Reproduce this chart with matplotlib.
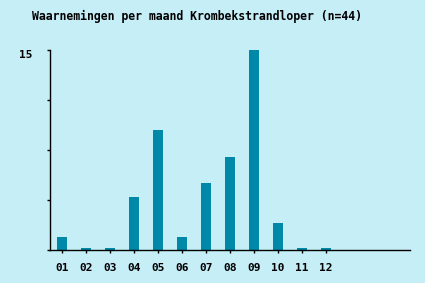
import matplotlib.pyplot as plt
import numpy as np

maanden = ['01', '02', '03', '04', '05', '06', '07', '08', '09', '10', '11', '12']
aantallen = [1, 0, 0, 4, 9, 1, 5, 7, 15, 2, 0, 0]
yticks = [0, 3.75, 7.5, 11.25, 15]
ylabels = ['', '', '', '', '15']

achtergrond = '#c6eef7'
balk = '#0088a8'

fig = plt.figure(figsize=(4.25, 2.83), dpi=100, facecolor=achtergrond)
ax = fig.add_axes([50 / 425, 33 / 283, 360 / 425, 200 / 283])
ax.set_facecolor(achtergrond)

x = np.arange(len(maanden))
# lege maanden krijgen een klein stompje zoals in het origineel
hoogte = np.maximum(aantallen, 0.15)
ax.bar(x, hoogte, width=0.38, color=balk)

ax.set_xlim(-0.5, 14.5)
ax.set_ylim(0, 15)
ax.set_xticks(x)
ax.set_xticklabels(maanden)
ax.set_yticks(yticks)
ax.set_yticklabels(ylabels)

for s in ['top', 'right']:
    ax.spines[s].set_visible(False)
for s in ['left', 'bottom']:
    ax.spines[s].set_linewidth(1.0)

ax.tick_params(axis='x', length=2.5, width=1, pad=7)
ax.tick_params(axis='y', length=2.5, width=1, pad=10)
for lbl in ax.get_xticklabels() + ax.get_yticklabels():
    lbl.set_fontfamily('DejaVu Sans Mono')
    lbl.set_fontweight('bold')
    lbl.set_fontsize(8)
for lbl in ax.get_yticklabels():
    lbl.set_verticalalignment('top')

fig.text(32 / 425, 1 - 16 / 283, 'Waarnemingen per maand Krombekstrandloper (n=44)',
         family='DejaVu Sans Mono', fontweight='bold', fontsize=8.3,
         ha='left', va='center')

fig.savefig('out.png', dpi=100, facecolor=achtergrond)
